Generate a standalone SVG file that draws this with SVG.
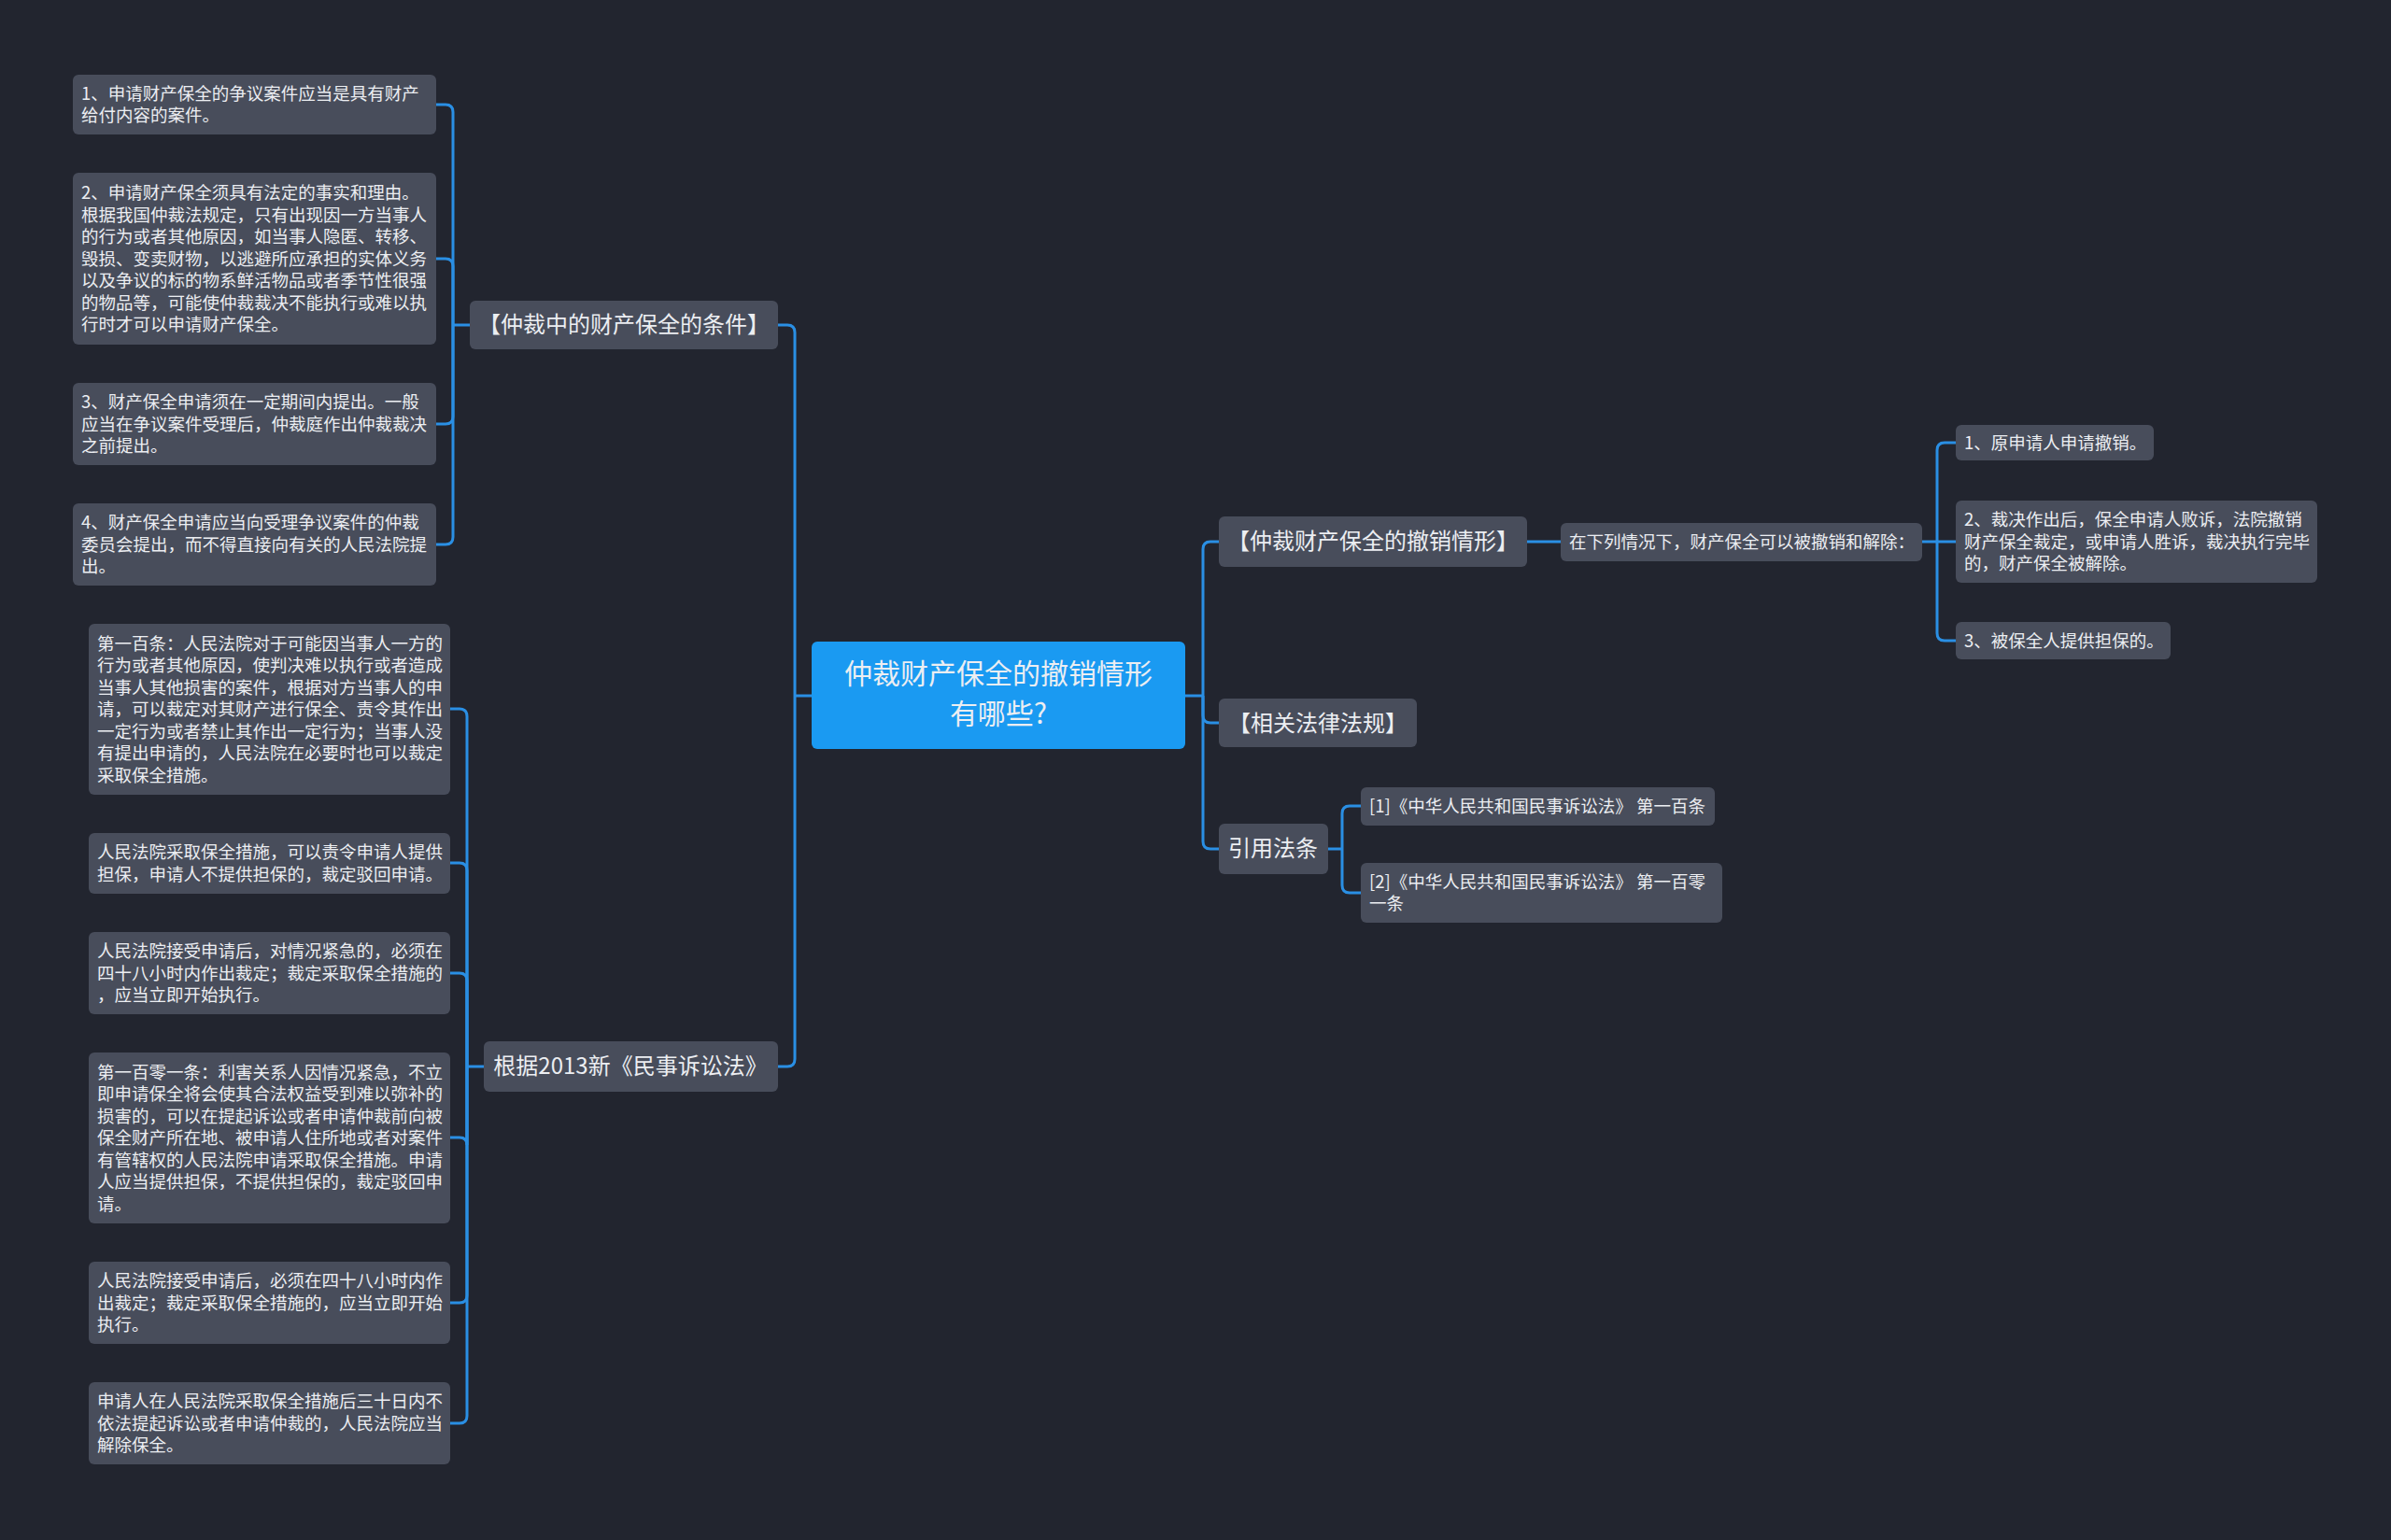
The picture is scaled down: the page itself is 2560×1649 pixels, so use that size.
<svg xmlns="http://www.w3.org/2000/svg" width="2560" height="1649" viewBox="0 0 2560 1649">
<style>
.bg{fill:#22252f}
.n{fill:#484d5b}
.t{font-family:"Noto Sans CJK SC","Noto Sans",sans-serif;fill:#eceef2}
.s{font-size:18.5px}
.b{font-size:24px}
.c{stroke:#2a8fe4;stroke-width:3;fill:none}
</style>
<rect class="bg" width="2560" height="1649"/>
<g id="connectors">
<path class="c" d="M869,745 H851"/>
<path class="c" d="M851,745 V356 Q851,348 843,348 H833"/>
<path class="c" d="M851,745 V1134 Q851,1142 843,1142 H833"/>
<path class="c" d="M503,348 H485"/>
<path class="c" d="M485,348 V120 Q485,112 477,112 H467"/>
<path class="c" d="M485,348 V285 Q485,277 477,277 H467"/>
<path class="c" d="M485,348 V446 Q485,454 477,454 H467"/>
<path class="c" d="M485,348 V575 Q485,583 477,583 H467"/>
<path class="c" d="M518,1142 H500"/>
<path class="c" d="M500,1142 V767 Q500,759 492,759 H482"/>
<path class="c" d="M500,1142 V932 Q500,924 492,924 H482"/>
<path class="c" d="M500,1142 V1050 Q500,1042 492,1042 H482"/>
<path class="c" d="M500,1142 V1226 Q500,1218 492,1218 H482"/>
<path class="c" d="M500,1142 V1387 Q500,1395 492,1395 H482"/>
<path class="c" d="M500,1142 V1516 Q500,1524 492,1524 H482"/>
<path class="c" d="M1269,745 H1288"/>
<path class="c" d="M1288,745 V588 Q1288,580 1296,580 H1305"/>
<path class="c" d="M1288,745 V766 Q1288,774 1296,774 H1305"/>
<path class="c" d="M1288,745 V901 Q1288,909 1296,909 H1305"/>
<path class="c" d="M1635,580 H1671"/>
<path class="c" d="M2058,580 H2074"/>
<path class="c" d="M2074,580 V482 Q2074,474 2082,474 H2094"/>
<path class="c" d="M2074,580 H2094"/>
<path class="c" d="M2074,580 V678 Q2074,686 2082,686 H2094"/>
<path class="c" d="M1422,909 H1437"/>
<path class="c" d="M1437,909 V871 Q1437,863 1445,863 H1457"/>
<path class="c" d="M1437,909 V948 Q1437,956 1445,956 H1457"/>
</g>
<g id="center"><rect x="869" y="687" width="400" height="115" rx="6" fill="#1a9af2"/>
<text class="t" font-size="30" text-anchor="middle" fill="#fff"><tspan x="1069" y="732">仲裁财产保全的撤销情形</tspan><tspan x="1069" y="775">有哪些?</tspan></text></g>
<g id="b1"><rect class="n" x="503" y="322" width="330" height="52" rx="6"/><text class="t b" x="668" y="356" text-anchor="middle">【仲裁中的财产保全的条件】</text></g>
<g id="c1"><rect class="n" x="78" y="80" width="389" height="64" rx="6"/><text class="t s"><tspan x="87" y="106.75">1、申请财产保全的争议案件应当是具有财产</tspan><tspan x="87" dy="23.5">给付内容的案件。</tspan></text></g>
<g id="c2"><rect class="n" x="78" y="185" width="389" height="184" rx="6"/><text class="t s"><tspan x="87" y="213">2、申请财产保全须具有法定的事实和理由。</tspan><tspan x="87" dy="23.5">根据我国仲裁法规定，只有出现因一方当事人</tspan><tspan x="87" dy="23.5">的行为或者其他原因，如当事人隐匿、转移、</tspan><tspan x="87" dy="23.5">毁损、变卖财物，以逃避所应承担的实体义务</tspan><tspan x="87" dy="23.5">以及争议的标的物系鲜活物品或者季节性很强</tspan><tspan x="87" dy="23.5">的物品等，可能使仲裁裁决不能执行或难以执</tspan><tspan x="87" dy="23.5">行时才可以申请财产保全。</tspan></text></g>
<g id="c3"><rect class="n" x="78" y="410" width="389" height="88" rx="6"/><text class="t s"><tspan x="87" y="437">3、财产保全申请须在一定期间内提出。一般</tspan><tspan x="87" dy="23.5">应当在争议案件受理后，仲裁庭作出仲裁裁决</tspan><tspan x="87" dy="23.5">之前提出。</tspan></text></g>
<g id="c4"><rect class="n" x="78" y="539" width="389" height="88" rx="6"/><text class="t s"><tspan x="87" y="566">4、财产保全申请应当向受理争议案件的仲裁</tspan><tspan x="87" dy="23.5">委员会提出，而不得直接向有关的人民法院提</tspan><tspan x="87" dy="23.5">出。</tspan></text></g>
<g id="b2"><rect class="n" x="518" y="1115" width="315" height="54" rx="6"/><text class="t b" x="675" y="1150" text-anchor="middle">根据2013新《民事诉讼法》</text></g>
<g id="d1"><rect class="n" x="95" y="668" width="387" height="183" rx="6"/><text class="t s"><tspan x="104" y="695.5">第一百条：人民法院对于可能因当事人一方的</tspan><tspan x="104" dy="23.5">行为或者其他原因，使判决难以执行或者造成</tspan><tspan x="104" dy="23.5">当事人其他损害的案件，根据对方当事人的申</tspan><tspan x="104" dy="23.5">请，可以裁定对其财产进行保全、责令其作出</tspan><tspan x="104" dy="23.5">一定行为或者禁止其作出一定行为；当事人没</tspan><tspan x="104" dy="23.5">有提出申请的，人民法院在必要时也可以裁定</tspan><tspan x="104" dy="23.5">采取保全措施。</tspan></text></g>
<g id="d2"><rect class="n" x="95" y="892" width="387" height="65" rx="6"/><text class="t s"><tspan x="104" y="919">人民法院采取保全措施，可以责令申请人提供</tspan><tspan x="104" dy="23.5">担保，申请人不提供担保的，裁定驳回申请。</tspan></text></g>
<g id="d3"><rect class="n" x="95" y="998" width="387" height="88" rx="6"/><text class="t s"><tspan x="104" y="1025">人民法院接受申请后，对情况紧急的，必须在</tspan><tspan x="104" dy="23.5">四十八小时内作出裁定；裁定采取保全措施的</tspan><tspan x="104" dy="23.5">，应当立即开始执行。</tspan></text></g>
<g id="d4"><rect class="n" x="95" y="1127" width="387" height="183" rx="6"/><text class="t s"><tspan x="104" y="1154.5">第一百零一条：利害关系人因情况紧急，不立</tspan><tspan x="104" dy="23.5">即申请保全将会使其合法权益受到难以弥补的</tspan><tspan x="104" dy="23.5">损害的，可以在提起诉讼或者申请仲裁前向被</tspan><tspan x="104" dy="23.5">保全财产所在地、被申请人住所地或者对案件</tspan><tspan x="104" dy="23.5">有管辖权的人民法院申请采取保全措施。申请</tspan><tspan x="104" dy="23.5">人应当提供担保，不提供担保的，裁定驳回申</tspan><tspan x="104" dy="23.5">请。</tspan></text></g>
<g id="d5"><rect class="n" x="95" y="1351" width="387" height="88" rx="6"/><text class="t s"><tspan x="104" y="1378">人民法院接受申请后，必须在四十八小时内作</tspan><tspan x="104" dy="23.5">出裁定；裁定采取保全措施的，应当立即开始</tspan><tspan x="104" dy="23.5">执行。</tspan></text></g>
<g id="d6"><rect class="n" x="95" y="1480" width="387" height="88" rx="6"/><text class="t s"><tspan x="104" y="1507">申请人在人民法院采取保全措施后三十日内不</tspan><tspan x="104" dy="23.5">依法提起诉讼或者申请仲裁的，人民法院应当</tspan><tspan x="104" dy="23.5">解除保全。</tspan></text></g>
<g id="r1"><rect class="n" x="1305" y="553" width="330" height="54" rx="6"/><text class="t b" x="1470" y="588" text-anchor="middle">【仲裁财产保全的撤销情形】</text></g>
<g id="r1c"><rect class="n" x="1671" y="560" width="387" height="41" rx="6"/><text class="t s" x="1680" y="587">在下列情况下，财产保全可以被撤销和解除：</text></g>
<g id="g1"><rect class="n" x="2094" y="455" width="212" height="38" rx="6"/><text class="t s" x="2103" y="480.5">1、原申请人申请撤销。</text></g>
<g id="g2"><rect class="n" x="2094" y="536" width="387" height="88" rx="6"/><text class="t s"><tspan x="2103" y="563">2、裁决作出后，保全申请人败诉，法院撤销</tspan><tspan x="2103" dy="23.5">财产保全裁定，或申请人胜诉，裁决执行完毕</tspan><tspan x="2103" dy="23.5">的，财产保全被解除。</tspan></text></g>
<g id="g3"><rect class="n" x="2094" y="666" width="230" height="40" rx="6"/><text class="t s" x="2103" y="692.5">3、被保全人提供担保的。</text></g>
<g id="r2"><rect class="n" x="1305" y="748" width="212" height="52" rx="6"/><text class="t b" x="1411" y="783" text-anchor="middle">【相关法律法规】</text></g>
<g id="r3"><rect class="n" x="1305" y="882" width="117" height="54" rx="6"/><text class="t b" x="1363" y="917" text-anchor="middle">引用法条</text></g>
<g id="f1"><rect class="n" x="1457" y="843" width="379" height="41" rx="6"/><text class="t s" x="1466" y="870">[1]《中华人民共和国民事诉讼法》 第一百条</text></g>
<g id="f2"><rect class="n" x="1457" y="924" width="387" height="64" rx="6"/><text class="t s"><tspan x="1466" y="950.75">[2]《中华人民共和国民事诉讼法》 第一百零</tspan><tspan x="1466" dy="23.5">一条</tspan></text></g>
</svg>
